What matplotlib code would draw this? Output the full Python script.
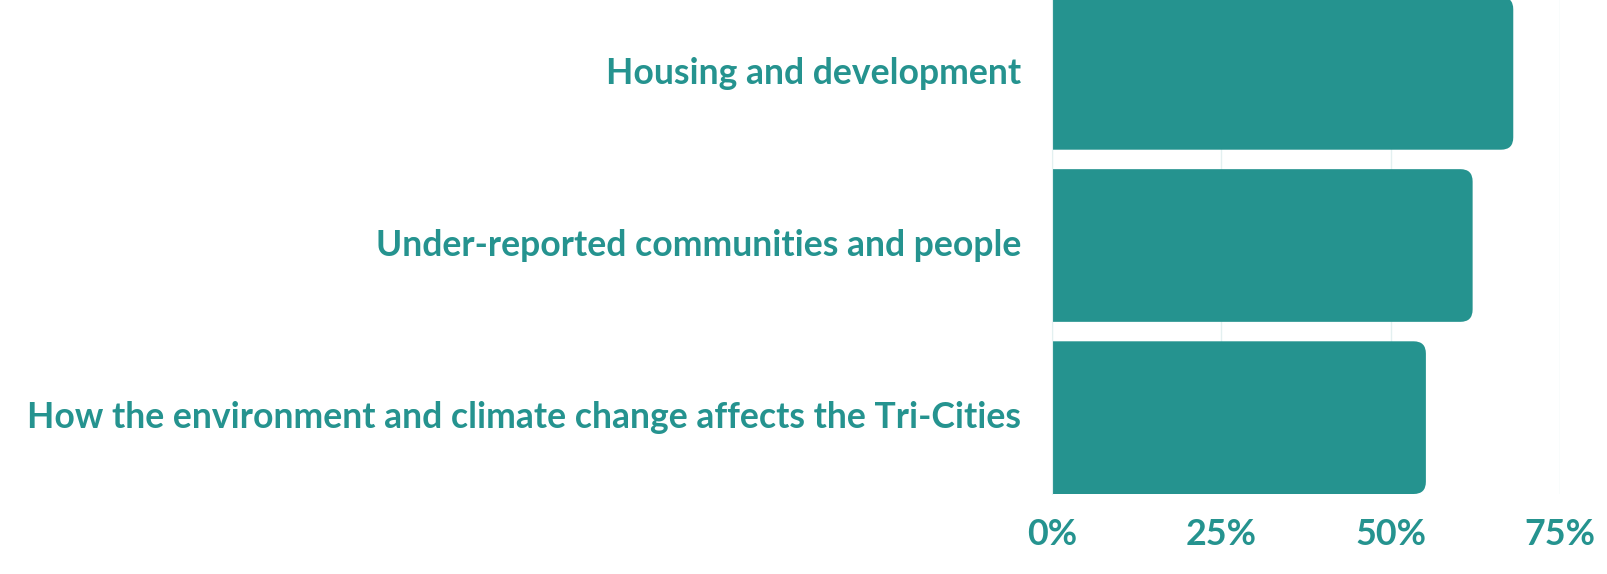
import matplotlib.pyplot as plt
from matplotlib.patches import FancyBboxPatch
from matplotlib.ticker import FuncFormatter

# Datos del gráfico
categorias = [
    'How the environment and climate change affects the Tri-Cities',
    'Under-reported communities and people',
    'Housing and development',
]
valores = [55.2, 62.1, 68.1]
ticks_x = [0, 25, 50, 75]

TEAL = '#25938f'
GRID = '#e3f0f0'

plt.rcParams['font.family'] = ['Lato', 'DejaVu Sans']

fig = plt.figure(figsize=(16.08, 5.74), dpi=100)
ax = fig.add_axes([1052 / 1608, 80 / 574, 508 / 1608, 497 / 574])

alto = 0.887
radio = 1.8
aspecto = 0.0395
pos = list(range(len(categorias)))

barras = ax.barh(pos, valores, height=alto, color=TEAL, zorder=2, linewidth=0)
# cambiar cada barra por una con el extremo derecho redondeado
# (el lado izquierdo se alarga por debajo de 0 y queda recortado por el eje)
for b in barras:
    b.set_visible(False)
    p = FancyBboxPatch((b.get_x() - radio * 2, b.get_y()), b.get_width() + radio * 2, b.get_height(),
                       boxstyle=f'round,pad=0,rounding_size={radio}',
                       mutation_aspect=aspecto, facecolor=TEAL, edgecolor='none', zorder=2)
    ax.add_patch(p)

ax.set_xlim(0, 75)
ax.set_ylim(-alto / 2, 2 + alto / 2)
ax.set_xticks(ticks_x)
ax.xaxis.set_major_formatter(FuncFormatter(lambda x, _: f'{x:.0f}%'))
ax.set_yticks(pos)
ax.set_yticklabels(categorias, va='center')

ax.grid(axis='x', color=GRID, linewidth=1, zorder=0)
ax.set_axisbelow(True)
for s in ['top', 'right', 'bottom']:
    ax.spines[s].set_visible(False)
ax.spines['left'].set_color(GRID)
ax.spines['left'].set_zorder(3)

ax.tick_params(axis='x', length=0, pad=17, labelsize=25.8, labelcolor=TEAL)
ax.tick_params(axis='y', length=0, pad=22, labelsize=25.6, labelcolor=TEAL)
for lbl in ax.get_xticklabels() + ax.get_yticklabels():
    lbl.set_fontweight('bold')

fig.savefig('out.png', dpi=100)
